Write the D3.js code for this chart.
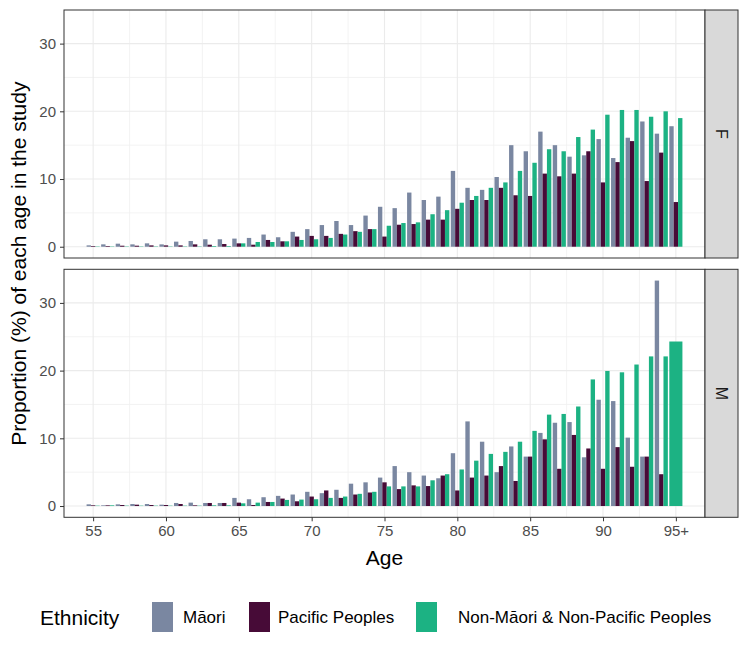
<!DOCTYPE html>
<html>
<head>
<meta charset="utf-8">
<script src="https://cdn.jsdelivr.net/npm/d3@7"></script>
<style>
  body { margin: 0; background: #fff; }
  text { font-family: "Liberation Sans", Arial, sans-serif; }
</style>
</head>
<body>
<div id="chart"></div>
<script>
// Edades (95 = "95+")
const ages = d3.range(55, 96);
const xTicks = [55, 60, 65, 70, 75, 80, 85, 90, 95];
const xTickLabels = ["55", "60", "65", "70", "75", "80", "85", "90", "95+"];
const yTicks = [0, 10, 20, 30];

const ethnicities = ["Māori", "Pacific Peoples", "Non-Māori & Non-Pacific Peoples"];
const colors = ["#7a87a1", "#470b37", "#1cb283"];
const facets = ["F", "M"];

// Mujeres
const femaleMaori = [0.2, 0.35, 0.45, 0.35, 0.5, 0.35, 0.75, 0.85, 1.1, 1.1,
  1.2, 1.3, 1.8, 1.4, 2.2, 2.6, 3.2, 3.8, 3.2, 4.6,
  5.9, 5.7, 8.0, 6.9, 7.4, 11.2, 8.7, 8.4, 10.3, 15.0,
  14.1, 17.0, 15.0, 13.3, 13.5, 15.9, 13.1, 16.1, 18.5, 16.7, 17.8];
const femalePacific = [0.1, 0.1, 0.15, 0.15, 0.2, 0.2, 0.2, 0.35, 0.3, 0.4,
  0.5, 0.3, 1.0, 0.8, 1.5, 1.6, 1.6, 1.9, 2.3, 2.6,
  1.5, 3.25, 3.35, 4.0, 4.0, 5.6, 6.9, 6.9, 8.7, 7.6,
  7.5, 10.8, 10.4, 10.8, 14.1, 9.5, 12.5, 15.6, 9.7, 13.9, 6.6];
const femaleOther = [0.05, 0.05, 0.05, 0.05, 0.05, 0.05, 0.05, 0.05, 0.1, 0.1,
  0.5, 0.7, 0.7, 0.8, 1.0, 1.1, 1.3, 1.8, 2.2, 2.6,
  3.1, 3.5, 3.6, 4.8, 5.4, 6.5, 7.5, 8.7, 9.5, 11.2,
  12.4, 14.4, 14.1, 16.2, 17.3, 19.5, 20.2, 20.2, 19.2, 20.0, 19.0];

// Hombres
const maleMaori = [0.25, 0.1, 0.25, 0.3, 0.3, 0.2, 0.45, 0.5, 0.45, 0.45,
  1.2, 1.0, 1.3, 1.5, 1.7, 2.1, 1.9, 2.4, 3.3, 3.5,
  4.2, 5.9, 5.0, 4.5, 4.1, 7.8, 12.5, 9.5, 5.0, 8.8,
  7.3, 10.8, 12.3, 12.4, 7.2, 15.7, 15.5, 10.1, 7.3, 33.3, null];
const malePacific = [0.1, 0.1, 0.15, 0.2, 0.15, 0.15, 0.3, 0.1, 0.45, 0.45,
  0.5, 0.15, 0.6, 1.1, 0.7, 1.4, 2.3, 1.2, 1.7, 2.0,
  3.5, 2.5, 3.05, 2.95, 4.5, 2.3, 4.2, 4.5, 5.9, 3.7,
  7.3, 9.85, 5.5, 10.5, 8.5, 5.5, 8.7, 5.8, 7.3, 4.7, null];
const maleOther = [0.05, 0.1, 0.05, 0.05, 0.05, 0.05, 0.05, 0.05, 0.1, 0.1,
  0.4, 0.5, 0.6, 0.9, 0.95, 1.0, 1.2, 1.4, 1.8, 2.1,
  2.9, 2.9, 2.9, 3.8, 4.7, 5.4, 6.7, 7.7, 8.0, 9.5,
  11.1, 13.5, 13.6, 14.7, 18.7, 19.95, 19.75, 20.9, 22.1, 22.1, 24.3];

const seriesByFacet = {
  F: [femaleMaori, femalePacific, femaleOther],
  M: [maleMaori, malePacific, maleOther]
};

// Tamaño y márgenes
const width = 744, height = 646;
const panelLeft = 64, panelRight = 705;
const stripWidth = 33;
const panelTops = [10, 269.3];
const panelHeight = 248;

const svg = d3.select("#chart").append("svg")
  .attr("width", width)
  .attr("height", height);

// Escalas (eje x continuo con expansión del 5%)
const x = d3.scaleLinear().domain([53, 97]).range([panelLeft, panelRight]);
const allValues = [].concat(femaleMaori, femalePacific, femaleOther, maleMaori, malePacific, maleOther)
  .filter(v => v != null);
const yMax = d3.max(allValues);
const yDomain = [-0.05 * yMax, yMax * 1.05];
const dodgeWidth = 0.9;

facets.forEach((facet, fi) => {
  const top = panelTops[fi];
  const y = d3.scaleLinear().domain(yDomain).range([top + panelHeight, top]);
  const g = svg.append("g");

  // Fondo del panel
  g.append("rect")
    .attr("x", panelLeft).attr("y", top)
    .attr("width", panelRight - panelLeft).attr("height", panelHeight)
    .attr("fill", "#fff");

  // Rejilla menor
  const xMinor = d3.range(52.5, 97.6, 5);
  const yMinor = [5, 15, 25];
  g.selectAll(".gx-minor").data(xMinor.filter(v => v > 53 && v < 97)).enter().append("line")
    .attr("x1", d => x(d)).attr("x2", d => x(d))
    .attr("y1", top).attr("y2", top + panelHeight)
    .attr("stroke", "#f0f0f0").attr("stroke-width", 0.8);
  g.selectAll(".gy-minor").data(yMinor).enter().append("line")
    .attr("x1", panelLeft).attr("x2", panelRight)
    .attr("y1", d => y(d)).attr("y2", d => y(d))
    .attr("stroke", "#f0f0f0").attr("stroke-width", 0.8);

  // Rejilla mayor
  g.selectAll(".gx").data(xTicks).enter().append("line")
    .attr("x1", d => x(d)).attr("x2", d => x(d))
    .attr("y1", top).attr("y2", top + panelHeight)
    .attr("stroke", "#ebebeb").attr("stroke-width", 1.1);
  g.selectAll(".gy").data(yTicks).enter().append("line")
    .attr("x1", panelLeft).attr("x2", panelRight)
    .attr("y1", d => y(d)).attr("y2", d => y(d))
    .attr("stroke", "#ebebeb").attr("stroke-width", 1.1);

  // Barras agrupadas (dodge)
  const series = seriesByFacet[facet];
  ages.forEach((age, ai) => {
    const present = series.map((s, si) => ({ si, v: s[ai] })).filter(d => d.v != null);
    const bw = dodgeWidth / present.length;
    present.forEach((d, k) => {
      const x0 = age - dodgeWidth / 2 + k * bw;
      g.append("rect")
        .attr("x", x(x0))
        .attr("width", x(x0 + bw) - x(x0))
        .attr("y", y(d.v))
        .attr("height", y(0) - y(d.v))
        .attr("fill", colors[d.si]);
    });
  });

  // Borde del panel
  g.append("rect")
    .attr("x", panelLeft).attr("y", top)
    .attr("width", panelRight - panelLeft).attr("height", panelHeight)
    .attr("fill", "none").attr("stroke", "#333").attr("stroke-width", 1);

  // Franja del facet
  g.append("rect")
    .attr("x", panelRight).attr("y", top)
    .attr("width", stripWidth).attr("height", panelHeight)
    .attr("fill", "#d9d9d9").attr("stroke", "#333").attr("stroke-width", 1);
  g.append("text")
    .attr("transform", `translate(${panelRight + stripWidth / 2},${top + panelHeight / 2}) rotate(90)`)
    .attr("text-anchor", "middle")
    .attr("dy", "0.35em")
    .attr("font-size", 16)
    .attr("fill", "#1a1a1a")
    .text(facet);

  // Eje y
  const yAxis = g.append("g")
    .attr("transform", `translate(${panelLeft},0)`)
    .call(d3.axisLeft(y).tickValues(yTicks).tickSize(4).tickPadding(4));
  yAxis.select(".domain").remove();
  yAxis.selectAll(".tick line").attr("stroke", "#333");
  yAxis.selectAll(".tick text").attr("font-size", 15).attr("fill", "#4d4d4d")
    .style("font-family", "Liberation Sans, Arial, sans-serif");

  // Eje x solo en el panel inferior
  if (fi === facets.length - 1) {
    const xAxis = g.append("g")
      .attr("transform", `translate(0,${top + panelHeight})`)
      .call(d3.axisBottom(x).tickValues(xTicks)
        .tickFormat((d, i) => xTickLabels[i]).tickSize(4).tickPadding(4));
    xAxis.select(".domain").remove();
    xAxis.selectAll(".tick line").attr("stroke", "#333");
    xAxis.selectAll(".tick text").attr("font-size", 15).attr("fill", "#4d4d4d")
      .style("font-family", "Liberation Sans, Arial, sans-serif");
  }
});

// Títulos de ejes
svg.append("text")
  .attr("x", (panelLeft + panelRight) / 2)
  .attr("y", 565)
  .attr("text-anchor", "middle")
  .attr("font-size", 21)
  .attr("fill", "#000")
  .text("Age");

svg.append("text")
  .attr("transform", `translate(26,${(panelTops[0] + panelTops[1] + panelHeight) / 2}) rotate(-90)`)
  .attr("text-anchor", "middle")
  .attr("font-size", 21)
  .attr("fill", "#000")
  .text("Proportion (%) of each age in the study");

// Leyenda
const legend = svg.append("g");
legend.append("text")
  .attr("x", 40).attr("y", 625)
  .attr("font-size", 21)
  .text("Ethnicity");
const keyX = [152, 249, 416];
const labelX = [183, 278, 458];
ethnicities.forEach((e, i) => {
  legend.append("rect")
    .attr("x", keyX[i]).attr("y", 602)
    .attr("width", 21).attr("height", 30)
    .attr("fill", colors[i]);
  legend.append("text")
    .attr("x", labelX[i]).attr("y", 623)
    .attr("font-size", 17)
    .text(e);
});
</script>
</body>
</html>
